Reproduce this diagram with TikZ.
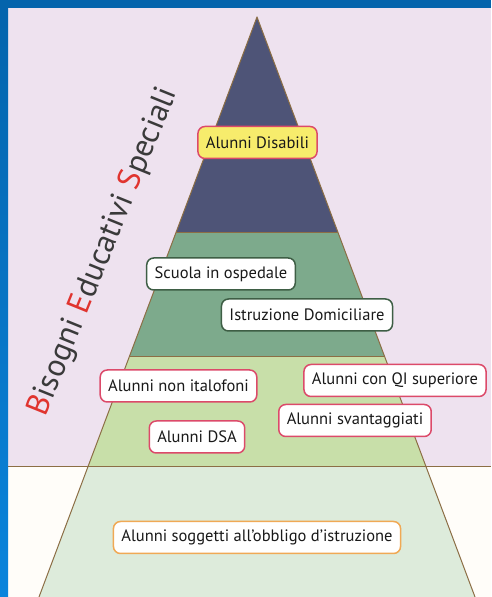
\documentclass[tikz,border=0pt]{standalone}
\usepackage{fontspec}
\setmainfont{PT Sans}
\usetikzlibrary{positioning,calc}

\definecolor{frameblue}{RGB}{4,100,172}
\definecolor{framelight}{RGB}{10,132,220}
\definecolor{lilac}{RGB}{238,226,239}
\definecolor{offwhite}{RGB}{255,253,249}
\definecolor{navy}{RGB}{78,84,119}
\definecolor{midgreen}{RGB}{125,170,140}
\definecolor{lightgreen}{RGB}{200,223,169}
\definecolor{palegreen}{RGB}{221,235,219}
\definecolor{rulebrown}{RGB}{140,110,69}
\definecolor{boxred}{RGB}{220,74,106}
\definecolor{boxgreen}{RGB}{62,94,69}
\definecolor{boxorange}{RGB}{240,169,85}
\definecolor{boxyellow}{RGB}{247,236,108}
\definecolor{titlered}{RGB}{224,52,47}
\definecolor{titlegray}{RGB}{58,58,58}

\begin{document}
\begin{tikzpicture}[
    x=1pt, y=1pt,
    font=\fontsize{16.5}{19}\selectfont, % testo dei riquadri
    line join=round,
    % stili comuni
    rule/.style={draw=rulebrown, line width=1pt},
    label box/.style={
        draw,
        fill=white,
        rounded corners=7pt,
        line width=1.5pt,
        minimum height=32pt,
        inner xsep=8pt,
        text=black!90
    },
    red box/.style={label box, draw=boxred},
    green box/.style={label box, draw=boxgreen}
]
    \useasboundingbox (0,0) rectangle (491,597);

    % --- 1. Sfondo ---
    \fill[lilac] (8,130) rectangle (491,589);
    \fill[offwhite] (8,0) rectangle (491,130);
    \shade[top color=frameblue, bottom color=framelight] (0,0) rectangle (8,597);
    \fill[frameblue] (0,589) rectangle (491,597);

    % --- 2. Piramide ---
    \coordinate (apex) at (257,580);
    \coordinate (bl) at (39,0);
    \coordinate (br) at (475,0);
    % confini delle fasce (frazione lungo i lati)
    \coordinate (l1) at ($(apex)!0.3724!(bl)$);
    \coordinate (r1) at ($(apex)!0.3724!(br)$);
    \coordinate (l2) at ($(apex)!0.5862!(bl)$);
    \coordinate (r2) at ($(apex)!0.5862!(br)$);
    \coordinate (l3) at ($(apex)!0.7759!(bl)$);
    \coordinate (r3) at ($(apex)!0.7759!(br)$);

    \fill[navy] (apex) -- (l1) -- (r1) -- cycle;
    \fill[midgreen] (l1) -- (l2) -- (r2) -- (r1) -- cycle;
    \fill[lightgreen] (l2) -- (l3) -- (r3) -- (r2) -- cycle;
    \fill[palegreen] (l3) -- (bl) -- (br) -- (r3) -- cycle;

    \draw[rule] (l1) -- (r1) (l2) -- (r2);
    \draw[rule] (8,130) -- (491,130);
    \draw[rule] (bl) -- (apex) -- (br);

    % --- 3. Titolo ruotato ---
    \node[rotate=68, text=titlegray, font=\fontsize{32}{36}\selectfont] (titolo) at (104,345)
        {{\color{titlered}B}isogni {\color{titlered}E}ducativi {\color{titlered}S}peciali};

    % --- 4. Riquadri ---
    \node[red box, fill=boxyellow] (disabili) at (257.5,454.5) {Alunni Disabili};

    \node[green box] (ospedale) at (221,323) {Scuola in ospedale};
    \node[green box] (domicilio) at (307,282) {Istruzione Domiciliare};

    \node[red box] (italofoni) at (178.5,211) {Alunni non italofoni};
    \node[red box] (qisup) at (395,216.5) {Alunni con QI superiore};
    \node[red box] (svantaggiati) at (355,176.5) {Alunni svantaggiati};
    \node[red box] (dsa) at (197,160) {Alunni DSA};

    \node[label box, draw=boxorange] (obbligo) at (257,59.5) {Alunni soggetti all’obbligo d’istruzione};

\end{tikzpicture}
\end{document}
